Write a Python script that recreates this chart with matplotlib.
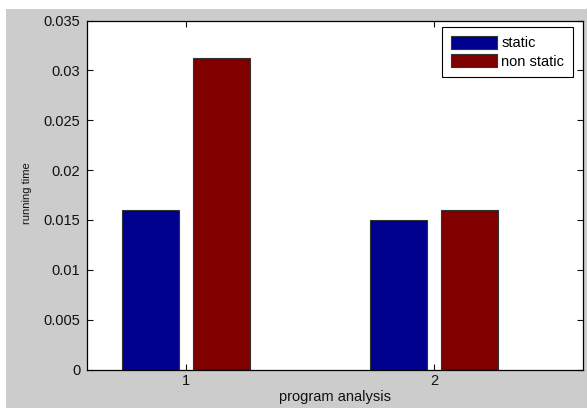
import matplotlib
matplotlib.use("Agg")
import matplotlib.pyplot as plt
from matplotlib.patches import Rectangle
import numpy as np

plt.rcParams['font.family'] = ['Liberation Sans', 'DejaVu Sans']

groups = [1, 2]
group_labels = ['1', '2']
series_names = ['static', 'non static']
static_vals = [0.016, 0.015]
non_static_vals = [0.0312, 0.016]
yticks = [0, 0.005, 0.01, 0.015, 0.02, 0.025, 0.03, 0.035]
ytick_labels = ['0', '0.005', '0.01', '0.015', '0.02', '0.025', '0.03', '0.035']
xlabel = 'program analysis'
ylabel = 'running time'

W, H = 587, 408
fig = plt.figure(figsize=(W / 100, H / 100), dpi=100, facecolor='white')
fig.patches.append(Rectangle((6 / W, 0), 1, (H - 9) / H, transform=fig.transFigure,
                             facecolor='#cccccc', edgecolor='none', zorder=-10))

left, right, top, bottom = 86.5, 583, 20.5, 369.5
ax = fig.add_axes([left / W, (H - bottom) / H, (right - left) / W, (bottom - top) / H])
ax.set_facecolor('white')

x = np.array(groups, dtype=float)
width = 0.23
off = 0.143
ax.bar(x - off, static_vals, width, color='#00008f', edgecolor='#333333', linewidth=0.8,
       label=series_names[0])
ax.bar(x + off, non_static_vals, width, color='#800000', edgecolor='#333333', linewidth=0.8,
       label=series_names[1])

ax.set_xlim(0.6, 2.6)
ax.set_ylim(0, 0.035)
ax.set_xticks(groups)
ax.set_xticklabels(group_labels)
ax.set_yticks(yticks)
ax.set_yticklabels(ytick_labels)
ax.tick_params(direction='in', top=True, right=True, length=4, width=0.8,
               labelsize=10.5, colors='#111111')
ax.tick_params(axis='y', pad=4.5)
ax.tick_params(axis='x', pad=3.5)
for s in ax.spines.values():
    s.set_linewidth(0.9)
    s.set_color('black')

ax.set_xlabel(xlabel, fontsize=10.5, color='#111111')
ax.xaxis.set_label_coords(0.5, (bottom - 390.5) / (bottom - top))
ax.set_ylabel(ylabel, fontsize=8, color='#111111', va='center')
ax.yaxis.set_label_coords((27.5 - left) / (right - left), 0.505)

leg = ax.legend(loc='upper right', bbox_to_anchor=(0.98, 0.981), borderaxespad=0,
                fontsize=10.5, fancybox=False, shadow=False, framealpha=1,
                edgecolor='black', handlelength=3.15, handleheight=1.0,
                handletextpad=0.3, labelspacing=0.25, borderpad=0.6)
leg.get_frame().set_linewidth(0.8)

fig.savefig('out.png', dpi=100, facecolor=fig.get_facecolor())
